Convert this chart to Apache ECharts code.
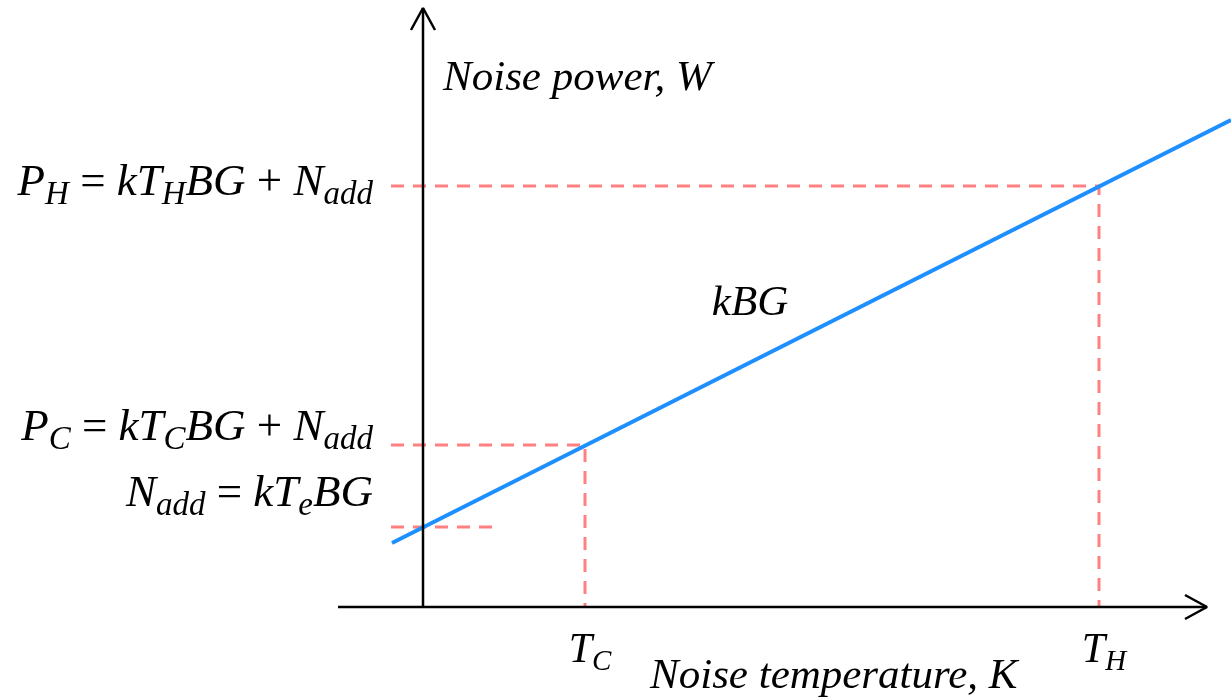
<!DOCTYPE html>
<html>
<head>
<meta charset="utf-8">
<script src="https://cdn.jsdelivr.net/npm/echarts@6/dist/echarts.min.js"></script>
<style>
html,body{margin:0;padding:0;background:#fff;}
#chart{width:1231px;height:699px;}
</style>
</head>
<body>
<div id="chart"></div>
<script>
// values (origin at the crossing of the two axes)
var tempNames = ['T_C', 'T_H'];
var tempValues = [162, 676];
var powerNames = ['N_add', 'P_C', 'P_H'];
var powerValues = [80, 162, 421];
var kbgLine = [[-31, 64], [808, 487]];
var xAxisLine = [[-85, 0], [784, 0]];
var yAxisLine = [[0, 0], [0, 599]];
var xArrow = [[762, 12], [784, 0], [762, -12]];
var yArrow = [[-12, 577], [0, 599], [12, 577]];
var dashFrom = -32;
var nAddDashTo = 71;

var serif = "'Liberation Serif', 'DejaVu Serif', serif";

var richText = {
    'T_C': '{m|T}{s|C}',
    'T_H': '{m|T}{s|H}',
    'N_add': '{m|N}{s|add}{u| = }{m|kT}{s|e}{m|BG}',
    'P_C': '{m|P}{s|C}{u| = }{m|kT}{s|C}{m|BG}{u| + }{m|N}{s|add}',
    'P_H': '{m|P}{s|H}{u| = }{m|kT}{s|H}{m|BG}{u| + }{m|N}{s|add}'
};
var powerShift = {'N_add': -33, 'P_C': -17, 'P_H': -3};

var dashStyle = {color: '#ff8080', width: 3, type: [13, 9]};
var blackStyle = {color: '#000', width: 2.5};

function lineSeries(data, style, z){
    return {type: 'line', data: data, symbol: 'none', silent: true, animation: false, z: z, lineStyle: style};
}

var dashes = [];
for (var i = 0; i < tempValues.length; i++){
    var p = powerValues[i + 1];
    dashes.push(lineSeries([[dashFrom, p], [tempValues[i], p], [tempValues[i], 0]], dashStyle, 2));
}
dashes.push(lineSeries([[dashFrom, powerValues[0]], [nAddDashTo, powerValues[0]]], dashStyle, 2));

var powerData = powerNames.map(function(n, i){
    return {name: n, value: [0, powerValues[i]], label: {offset: [0, powerShift[n]]}};
});
var tempData = tempNames.map(function(n, i){
    return {name: n, value: [tempValues[i], 0]};
});

var bigRich = {
    m: {fontFamily: serif, fontStyle: 'italic', fontSize: 45, color: '#000', lineHeight: 58},
    u: {fontFamily: serif, fontStyle: 'normal', fontSize: 45, color: '#000', lineHeight: 58},
    s: {fontFamily: serif, fontStyle: 'italic', fontSize: 33, color: '#000', lineHeight: 33, verticalAlign: 'bottom'}
};
var tickRich = {
    m: {fontFamily: serif, fontStyle: 'italic', fontSize: 42, color: '#000', lineHeight: 52},
    s: {fontFamily: serif, fontStyle: 'italic', fontSize: 29, color: '#000', lineHeight: 29, verticalAlign: 'bottom'}
};

var chart = echarts.init(document.getElementById('chart'));
var option = {
    backgroundColor: '#fff',
    animation: false,
    grid: {left: 0, right: 0, top: 0, bottom: 0},
    xAxis: {type: 'value', min: -423, max: 808, show: false},
    yAxis: {type: 'value', min: -92, max: 607, show: false},
    graphic: [
        {type: 'text', x: 443, y: 79, silent: true,
            style: {text: 'Noise power, W', font: 'italic 43px ' + serif, fill: '#000', verticalAlign: 'middle'}},
        {type: 'text', x: 650, y: 677, silent: true,
            style: {text: 'Noise temperature, K', font: 'italic 43px ' + serif, fill: '#000', verticalAlign: 'middle'}},
        {type: 'text', x: 750, y: 304, silent: true,
            style: {text: 'kBG', font: 'italic 43px ' + serif, fill: '#000', align: 'center', verticalAlign: 'middle'}}
    ],
    series: dashes.concat([
        lineSeries(kbgLine, {color: '#1e8fff', width: 4}, 3),
        lineSeries(xAxisLine, blackStyle, 4),
        lineSeries(yAxisLine, blackStyle, 4),
        lineSeries(xArrow, blackStyle, 4),
        lineSeries(yArrow, blackStyle, 4),
        {
            type: 'scatter', data: powerData, symbolSize: 0, silent: true, animation: false, z: 5,
            itemStyle: {color: '#000', opacity: 1},
            label: {show: true, color: '#000', textBorderWidth: 0, position: 'left', distance: 50, formatter: function(p){ return richText[p.name]; }, rich: bigRich}
        },
        {
            type: 'scatter', data: tempData, symbolSize: 0, silent: true, animation: false, z: 5,
            itemStyle: {color: '#000', opacity: 1},
            label: {show: true, color: '#000', textBorderWidth: 0, position: 'bottom', distance: 18, offset: [5, 0], formatter: function(p){ return richText[p.name]; }, rich: tickRich}
        }
    ])
};
chart.setOption(option);
</script>
</body>
</html>
